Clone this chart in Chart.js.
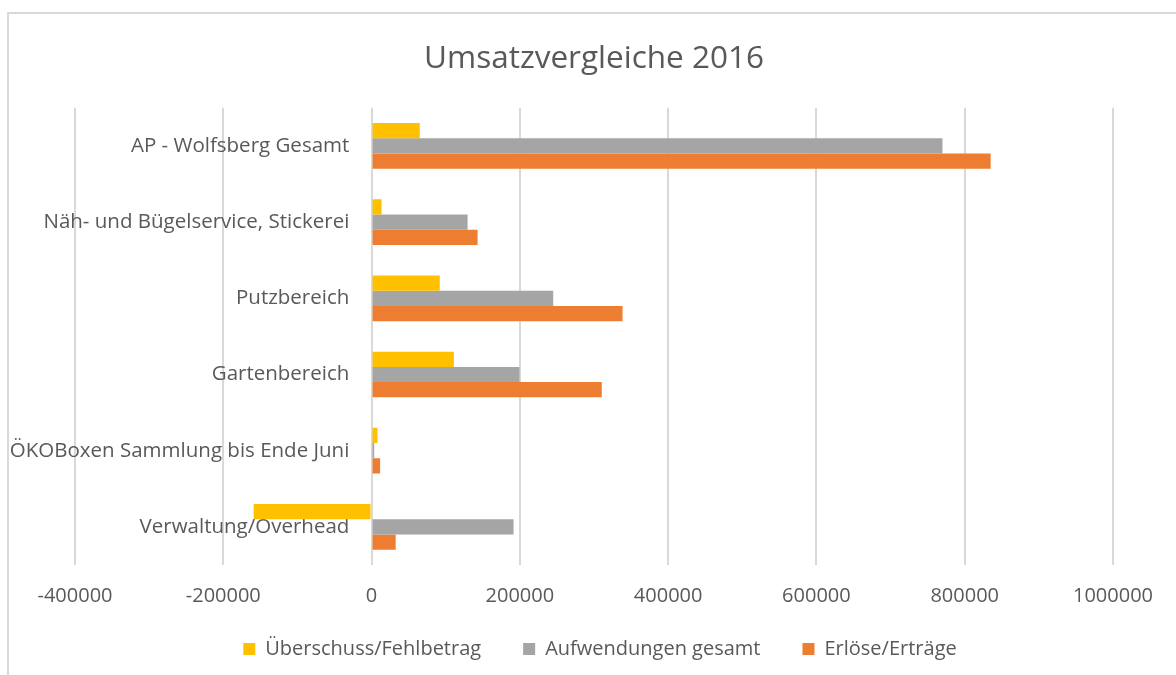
<!DOCTYPE html>
<html>
<head>
<meta charset="utf-8">
<script src="https://cdn.jsdelivr.net/npm/chart.js@4.4.1/dist/chart.umd.min.js"></script>
<style>
  html, body { margin: 0; padding: 0; background: #fff; }
  #wrap { position: relative; width: 1176px; height: 675px; overflow: hidden; }
  #frame {
    position: absolute; left: 7px; top: 12px; width: 1300px; height: 800px;
    border-left: 2px solid #d9d9d9; border-top: 2px solid #d9d9d9;
  }
  #c { position: absolute; left: 0; top: 0; }
</style>
</head>
<body>
<div id="wrap">
  <div id="frame"></div>
  <canvas id="c" width="1176" height="675"></canvas>
</div>
<script>
var categories = [
    'AP - Wolfsberg Gesamt',
    'Näh- und Bügelservice, Stickerei',
    'Putzbereich',
    'Gartenbereich',
    'ÖKOBoxen Sammlung bis Ende Juni',
    'Verwaltung/Overhead'
];
var ueberschuss = [65000, 13500, 92000, 111000, 8000, -159000];
var aufwendungen = [770000, 129500, 245000, 199500, 3500, 191500];
var erloese = [835000, 143000, 338500, 310500, 11500, 32500];
var xTicks = [-400000, -200000, 0, 200000, 400000, 600000, 800000, 1000000];

var textColor = '#595959';
var gridColor = '#d9d9d9';
var fontFamily = "'Open Sans', 'Noto Sans', sans-serif";

// category labels sit a little left of the zero line (tick padding is ignored
// for an axis placed by value, so place it at a small negative value instead)
var labelAxisAt = -30000;

// pull the legend up a bit, its top padding is also the gap between items
var legendShift = {
    id: 'legendShift',
    afterLayout: function(chart) {
        chart.legend.top -= 11;
        chart.legend.bottom -= 11;
        chart.legend.left += 6;
        chart.legend.right += 6;
    }
};

var chart = new Chart(document.getElementById('c'), {
    type: 'bar',
    data: {
        labels: categories,
        datasets: [{
            label: 'Überschuss/Fehlbetrag',
            data: ueberschuss,
            backgroundColor: '#FFC000'
        }, {
            label: 'Aufwendungen gesamt',
            data: aufwendungen,
            backgroundColor: '#A5A5A5'
        }, {
            label: 'Erlöse/Erträge',
            data: erloese,
            backgroundColor: '#ED7D31'
        }]
    },
    plugins: [legendShift],
    options: {
        indexAxis: 'y',
        responsive: false,
        animation: false,
        layout: {
            padding: {left: 75, right: 63, top: 0, bottom: -5}
        },
        datasets: {
            bar: {categoryPercentage: 0.6, barPercentage: 1.0}
        },
        scales: {
            x: {
                min: -400000,
                max: 1000000,
                afterBuildTicks: function(axis) {
                    axis.ticks = xTicks.map(function(v) { return {value: v}; });
                },
                afterFit: function(axis) {
                    axis.height = 43;
                },
                grid: {color: gridColor, lineWidth: 2, drawTicks: false},
                border: {display: false},
                ticks: {
                    color: textColor,
                    padding: 19,
                    font: {family: fontFamily, size: 20},
                    callback: function(v) { return String(v); }
                }
            },
            y: {
                position: {x: labelAxisAt},
                grid: {display: false},
                border: {display: false},
                ticks: {
                    color: textColor,
                    font: {family: fontFamily, size: 20.5}
                }
            }
        },
        plugins: {
            title: {
                display: true,
                text: 'Umsatzvergleiche 2016',
                color: textColor,
                font: {family: fontFamily, size: 31.5, weight: 'normal'},
                padding: {top: 40, bottom: 30}
            },
            legend: {
                position: 'bottom',
                labels: {
                    color: textColor,
                    boxWidth: 12,
                    boxHeight: 12,
                    padding: 42,
                    font: {family: fontFamily, size: 20}
                }
            },
            tooltip: {enabled: false}
        }
    }
});
</script>
</body>
</html>
